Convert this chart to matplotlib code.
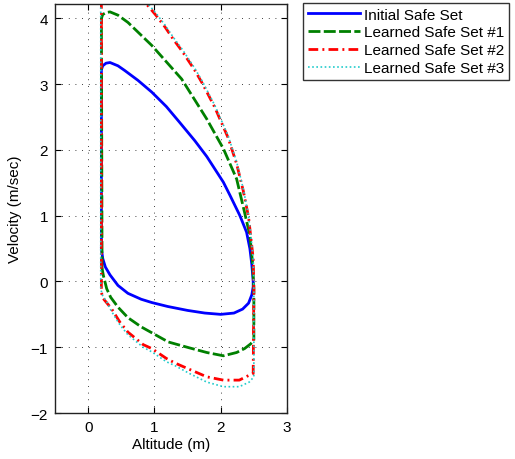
import matplotlib
matplotlib.use("Agg")
import matplotlib.pyplot as plt

# Initial Safe Set
blue_x = [0.2, 0.2, 0.22, 0.27, 0.33, 0.45, 0.55, 0.75, 0.96, 1.18, 1.38, 1.61, 1.79, 2.04, 2.14, 2.29,
          2.39, 2.44, 2.47, 2.49, 2.49, 2.47, 2.42, 2.33, 2.2, 2.0, 1.76, 1.5, 1.2, 0.96, 0.8, 0.6,
          0.45, 0.33, 0.26, 0.22, 0.2]
blue_y = [0.5, 3.22, 3.28, 3.32, 3.33, 3.28, 3.21, 3.06, 2.88, 2.66, 2.42, 2.14, 1.9, 1.51, 1.31, 1.0,
          0.75, 0.5, 0.25, 0.0, -0.08, -0.2, -0.33, -0.42, -0.48, -0.5, -0.48, -0.44, -0.38, -0.32,
          -0.27, -0.18, -0.06, 0.1, 0.22, 0.35, 0.5]

# Learned Safe Set #1
green_x = [0.21, 0.2, 0.22, 0.27, 0.33, 0.45, 0.6, 0.96, 1.41, 1.79, 2.04, 2.24, 2.36, 2.44, 2.48, 2.5,
           2.5, 2.45, 2.36, 2.24, 2.04, 1.79, 1.53, 1.21, 0.8, 0.6, 0.45, 0.34, 0.28, 0.23, 0.21]
green_y = [0.2, 4.0, 4.06, 4.09, 4.1, 4.05, 3.94, 3.59, 3.08, 2.47, 2.02, 1.56, 1.05, 0.7, 0.29, -0.11,
           -0.9, -0.95, -1.02, -1.08, -1.13, -1.08, -1.01, -0.92, -0.69, -0.55, -0.39, -0.24, -0.11,
           0.09, 0.2]

# Learned Safe Set #2
red_x = [0.2, 0.2, 0.22, 0.35, 0.48, 0.6, 0.83, 0.96, 1.18, 1.31, 1.56, 1.79, 2.04, 2.28, 2.4, 2.49,
         2.5, 2.49, 2.46, 2.42, 2.34, 2.24, 2.11, 2.01, 1.91, 1.73, 1.61, 1.42, 1.28, 1.16, 1.03, 0.88, 0.7]
red_y = [4.6, -0.16, -0.25, -0.41, -0.62, -0.77, -0.96, -1.02, -1.17, -1.24, -1.35, -1.45, -1.50, -1.50,
         -1.44, -1.40, -0.11, 0.35, 0.62, 0.98, 1.38, 1.79, 2.19, 2.42, 2.65, 3.0, 3.21, 3.5, 3.69, 3.87,
         4.04, 4.22, 4.45]

# Learned Safe Set #3
cyan_x = [0.19, 0.19, 0.21, 0.28, 0.35, 0.48, 0.6, 0.83, 0.96, 1.18, 1.31, 1.53, 1.79, 2.04, 2.28, 2.43,
          2.5, 2.5, 2.49, 2.46, 2.42, 2.34, 2.24, 2.11, 2.01, 1.91, 1.73, 1.61, 1.42, 1.28, 1.16, 1.03,
          0.88, 0.7]
cyan_y = [4.6, -0.1, -0.2, -0.31, -0.45, -0.66, -0.81, -1.0, -1.07, -1.22, -1.28, -1.4, -1.53, -1.6,
          -1.6, -1.53, -1.45, -0.11, 0.35, 0.64, 1.0, 1.41, 1.82, 2.22, 2.45, 2.68, 3.03, 3.24, 3.53, 3.72,
          3.9, 4.07, 4.25, 4.45]

labels = ["Initial Safe Set", "Learned Safe Set #1", "Learned Safe Set #2", "Learned Safe Set #3"]
xticks = [0, 1, 2, 3]
yticks = [-2, -1, 0, 1, 2, 3, 4]

plt.rcParams['font.family'] = ['Liberation Sans', 'DejaVu Sans']

fig = plt.figure(figsize=(5.15, 4.6), dpi=100)
ax = fig.add_axes([55 / 515, 1 - 414 / 460, 232 / 515, 409 / 460])

ax.plot(blue_x, blue_y, color='#0000ff', lw=2.0, ls='-', label=labels[0])
ax.plot(green_x, green_y, color='#008000', lw=2.0, dashes=(4.3, 1.2), label=labels[1])
ax.plot(red_x, red_y, color='#ff0000', lw=2.0, dashes=(3.5, 1.5, 0.7, 1.5), label=labels[2])
ax.plot(cyan_x, cyan_y, color='#22cccc', lw=1.2, dashes=(1, 1.5), label=labels[3])

ax.set_xlim(-0.5, 3)
ax.set_ylim(-2, 4.22)
ax.set_xticks(xticks)
ax.set_yticks(yticks)
ax.set_yticklabels([str(t).replace('-', '\u2212') for t in yticks])
ax.grid(True, color='k', lw=0.6, dashes=(1, 7))
ax.tick_params(direction='in', top=True, right=True, labelsize=11, length=4, width=0.8, pad=5)
for s in ax.spines.values():
    s.set_linewidth(1.0)
    s.set_color('#222222')
ax.set_xlabel("Altitude (m)", fontsize=11, labelpad=2)
ax.set_ylabel("Velocity (m/sec)", fontsize=11, labelpad=6)

leg = fig.legend(loc='upper left', bbox_to_anchor=(303 / 515, 1 - 4 / 460), fontsize=11,
                 frameon=True, fancybox=False, edgecolor='k', handlelength=3.4,
                 handletextpad=0.3, labelspacing=0.25, borderpad=0.3, borderaxespad=0)
leg.get_frame().set_linewidth(1.0)

fig.savefig("out.png", dpi=100)
